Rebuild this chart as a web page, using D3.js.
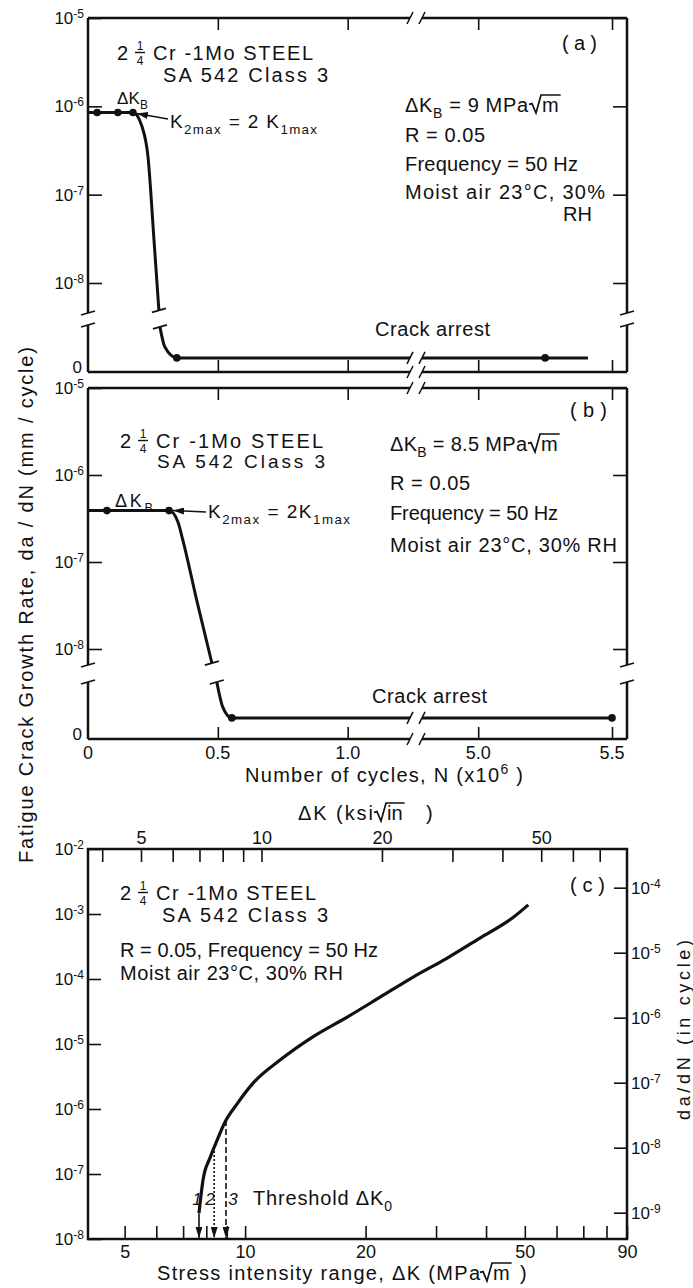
<!DOCTYPE html>
<html>
<head>
<meta charset="utf-8">
<script src="https://cdn.jsdelivr.net/npm/d3@7"></script>
<style>
  body { margin: 0; background: #fff; }
  svg { display: block; }
  text { font-family: "Liberation Sans", Arial, sans-serif; fill: #111; }
</style>
</head>
<body>
<div id="fig"></div>
<script>
// ---------- data ----------
// (a) dK_B = 9 MPa sqrt(m)
const aFlatN = [0, 0.035, 0.115, 0.173];          // 10^6 cycles
const aFlatRate = 8.5e-7;                          // mm/cycle
const aDropN = [0.208, 0.231, 0.254, 0.273];
const aDropRate = [5.9e-7, 2.7e-7, 3.1e-8, 4.9e-9];
const aTailN = [0.277, 0.296, 0.342];
const aTailRate = [9.6e-10, 5.3e-10, 3.0e-10];     // below the axis break, near zero
const aArrestEnd = 5.41;
const aFlatDots = [0.035, 0.115, 0.173];
const aArrestDots = [0.342, 5.25];

// (b) dK_B = 8.5 MPa sqrt(m)
const bFlatN = [0, 0.073, 0.312];
const bFlatRate = 3.9e-7;
const bDropN = [0.346, 0.365, 0.419, 0.477];
const bDropRate = [2.9e-7, 1.8e-7, 3.6e-8, 6.9e-9];
const bTailN = [0.496, 0.519, 0.554];
const bTailRate = [1.0e-9, 5.6e-10, 3.7e-10];
const bArrestEnd = 5.5;
const bFlatDots = [0.073, 0.312];
const bArrestDots = [0.554, 5.5];

const nTicksLeft = [0, 0.5, 1.0];
const nTicksRight = [5.0, 5.5];
const rateTicksAB = [1e-5, 1e-6, 1e-7, 1e-8];

// (c) da/dN vs dK
const cDK = [7.67, 7.85, 8.18, 8.51, 8.91, 9.55, 10.47, 12.2, 14.8, 18.0, 21.8, 26.3, 32.0, 38.7, 46.8, 51.0];
const cRate = [2.5e-8, 8.1e-8, 1.8e-7, 3.3e-7, 6.3e-7, 1.2e-6, 2.5e-6, 5.6e-6, 1.3e-5, 2.6e-5, 5.3e-5, 1.07e-4, 2.1e-4, 4.3e-4, 8.9e-4, 1.38e-3];
const threshDK = [7.67, 8.37, 8.96];
const threshRate = [2.5e-8, 2.6e-7, 6.8e-7];
const threshLabels = ["1", "2", "3"];
const threshDash = [null, "2,2", "6,3"];

const mpaTicks = [5, 6, 7, 8, 9, 10, 20, 30, 40, 50, 60, 70, 80, 90];
const mpaLabels = [5, 10, 20, 50, 90];
const ksiTicks = [4, 5, 6, 7, 8, 9, 10, 20, 30, 40, 50, 60, 70];
const ksiLabels = [5, 10, 20, 50];
const mmTicks = [1e-2, 1e-3, 1e-4, 1e-5, 1e-6, 1e-7, 1e-8];
const inTicks = [1e-4, 1e-5, 1e-6, 1e-7, 1e-8, 1e-9];
const MPA_PER_KSI = 1.0988;
const MM_PER_IN = 25.4;

// ---------- drawing ----------
const ink = "#111";
const svg = d3.select("#fig").append("svg").attr("width", 693).attr("height", 1288);

const defs = svg.append("defs");
defs.append("marker").attr("id", "arr").attr("viewBox", "0 0 11 7")
  .attr("refX", 11).attr("refY", 3.5).attr("markerWidth", 11).attr("markerHeight", 7)
  .attr("markerUnits", "userSpaceOnUse").attr("orient", "auto")
  .append("path").attr("d", "M0,0L11,3.5L0,7z").attr("fill", ink);

function label(x, y, parts, opt = {}) {
  const size = opt.size || 20;
  const t = svg.append("text").attr("x", x).attr("y", y).attr("font-size", size)
    .attr("text-anchor", opt.anchor || "start");
  if (opt.width) t.attr("textLength", opt.width).attr("lengthAdjust", "spacing");
  if (opt.italic) t.attr("font-style", "italic");
  if (opt.transform) t.attr("transform", opt.transform);
  let shift = 0;
  (typeof parts === "string" ? [{ t: parts }] : parts).forEach(p => {
    const s = p.sub ? size * 0.3 : p.sup ? -size * 0.42 : 0;
    const sp = t.append("tspan").attr("dy", s - shift).text(p.t);
    if (p.sub || p.sup) sp.attr("font-size", size * 0.7);
    shift = s;
  });
  return t;
}

function line(x1, y1, x2, y2, w = 2.5) {
  return svg.append("line").attr("x1", x1).attr("y1", y1).attr("x2", x2).attr("y2", y2)
    .attr("stroke", ink).attr("stroke-width", w);
}

// radical sign with radicand
function radical(x, y, size, radicand) {
  const t = label(x + 13, y, radicand, { size });
  const w = t.node().getComputedTextLength();
  const top = y - size * 0.85;
  svg.append("path")
    .attr("d", `M${x},${y - size * 0.38}L${x + 3},${y - size * 0.42}L${x + 7},${y + 1}L${x + 12},${top}L${x + 15 + w},${top}`)
    .attr("fill", "none").attr("stroke", ink).attr("stroke-width", 1.7);
}

// "2 1/4 Cr -1Mo STEEL" with stacked fraction
function steelTitle(x, y, restW) {
  label(x, y, "2", { size: 20 });
  const cx = x + 23;
  label(cx, y - 10, "1", { size: 12, anchor: "middle" });
  label(cx, y + 5, "4", { size: 12, anchor: "middle" });
  line(cx - 5, y - 7.5, cx + 5, y - 7.5, 1.4);
  label(x + 36, y, "Cr -1Mo STEEL", { size: 20, width: restW });
}

function powLabels(sel) {
  sel.selectAll(".tick text").each(function (d) {
    const e = Math.round(Math.log10(d));
    const t = d3.select(this);
    t.text("10").attr("font-size", 17);
    t.append("tspan").attr("dy", "-0.5em").attr("font-size", 12).text(e);
  });
}

// x scales for the broken cycle axis
const xL = d3.scaleLinear().domain([0, 1.24]).range([88, 410]);
const xR = d3.scaleLinear().domain([4.79, 5.556]).range([422, 627]);
const nx = n => (n < 3 ? xL(n) : xR(n));

function slash(x, y) { line(x - 3, y + 6, x + 3, y - 6, 1.6); }
function brk(x, y) { line(x - 7, y + 2, x + 7, y - 2, 1.8); }

function brokenPanel(o) {
  const y = d3.scaleLog().domain([1e-5, 1e-8]).range([o.top, o.y8]);
  const y0 = d3.scaleLinear().domain([0, 1e-9]).range([o.zero, o.brk2]);

  // frame with breaks
  [88, 627].forEach(x => {
    line(x, o.top, x, o.brk1); line(x, o.brk2, x, o.zero);
    brk(x, o.brk1); brk(x, o.brk2);
  });
  [o.top, o.zero].forEach(yy => {
    line(88, yy, xL.range()[1], yy); line(xR.range()[0], yy, 627, yy);
    slash(xL.range()[1], yy); slash(xR.range()[0], yy);
  });

  // ticks
  const ax = [
    [d3.axisTop(xL).tickValues([0.5, 1.0]), o.top],
    [d3.axisTop(xR).tickValues(nTicksRight), o.top],
    [d3.axisBottom(xL).tickValues([0.5, 1.0]), o.zero],
    [d3.axisBottom(xR).tickValues(nTicksRight), o.zero]
  ];
  ax.forEach(([a, yy]) => {
    const g = svg.append("g").attr("transform", `translate(0,${yy})`)
      .call(a.tickSize(-12).tickFormat(""));
    g.select(".domain").remove();
    g.selectAll("line").attr("stroke", ink).attr("stroke-width", 1.6);
  });
  const gl = svg.append("g").attr("transform", "translate(88,0)")
    .call(d3.axisLeft(y).tickValues(rateTicksAB).tickSize(-14).tickPadding(4));
  gl.select(".domain").remove();
  gl.selectAll("line").attr("stroke", ink).attr("stroke-width", 1.6);
  gl.selectAll("text").attr("font-family", null).attr("fill", ink);
  powLabels(gl);
  const gr = svg.append("g").attr("transform", "translate(627,0)")
    .call(d3.axisRight(y).tickValues(rateTicksAB).tickSize(-14).tickFormat(""));
  gr.select(".domain").remove();
  gr.selectAll("line").attr("stroke", ink).attr("stroke-width", 1.6);
  label(82, o.zero + 1, "0", { size: 17, anchor: "end" });

  // upper curve: plateau then drop
  const upper = o.flatN.map(n => [n, o.flatRate]).concat(o.dropN.map((n, i) => [n, o.dropRate[i]]));
  svg.append("path").datum(upper)
    .attr("d", d3.line().x(d => xL(d[0])).y(d => y(d[1])).curve(d3.curveMonotoneX))
    .attr("fill", "none").attr("stroke", ink).attr("stroke-width", 3);
  const last = upper[upper.length - 1];
  brk(xL(last[0]), y(last[1]));

  // lower curve: tail into crack arrest
  const arrest = o.tailRate[o.tailRate.length - 1];
  const lower = o.tailN.map((n, i) => [n, o.tailRate[i]]).concat([[xL.domain()[1], arrest]]);
  svg.append("path").datum(lower)
    .attr("d", d3.line().x(d => xL(d[0])).y(d => y0(d[1])).curve(d3.curveMonotoneX))
    .attr("fill", "none").attr("stroke", ink).attr("stroke-width", 3);
  brk(xL(o.tailN[0]), y0(o.tailRate[0]));
  svg.append("path").datum([[xR.domain()[0], arrest], [o.arrestEnd, arrest]])
    .attr("d", d3.line().x(d => xR(d[0])).y(d => y0(d[1])))
    .attr("fill", "none").attr("stroke", ink).attr("stroke-width", 3);
  slash(xL.range()[1], y0(arrest)); slash(xR.range()[0], y0(arrest));

  // points
  o.flatDots.forEach(n => svg.append("circle").attr("cx", nx(n)).attr("cy", y(o.flatRate)).attr("r", 3.8).attr("fill", ink));
  o.arrestDots.forEach(n => svg.append("circle").attr("cx", nx(n)).attr("cy", y0(arrest)).attr("r", 3.8).attr("fill", ink));

  return { y, y0 };
}

// ----- panel (a)
const pa = brokenPanel({
  top: 18, y8: 283, brk1: 313, brk2: 325, zero: 372,
  flatN: aFlatN, flatRate: aFlatRate, dropN: aDropN, dropRate: aDropRate,
  tailN: aTailN, tailRate: aTailRate, arrestEnd: aArrestEnd,
  flatDots: aFlatDots, arrestDots: aArrestDots
});
steelTitle(117, 60, 160);
label(163, 82, "SA 542 Class 3", { width: 165 });
label(117, 104, [{ t: "ΔK" }, { t: "B", sub: true }], { size: 17, width: 31 });
label(170, 128, [{ t: "K" }, { t: "2max", sub: true }, { t: " = 2 K" }, { t: "1max", sub: true }], { size: 19, width: 147 });
line(168, 119, xL(aFlatN[3]) + 4, pa.y(aFlatRate) + 1, 1.5).attr("marker-end", "url(#arr)");
label(562, 50, "(a)", { width: 35 });
label(405, 112, [{ t: "ΔK" }, { t: "B", sub: true }, { t: " = 9 MPa" }], { width: 123 });
radical(529, 112, 20, "m");
label(405, 142, "R = 0.05", { width: 80 });
label(405, 171, "Frequency = 50 Hz", { width: 173 });
label(405, 199, "Moist air 23°C, 30%", { width: 200 });
label(563, 221, "RH");
label(375, 336, "Crack arrest", { width: 115 });

// ----- panel (b)
const pb = brokenPanel({
  top: 388, y8: 649, brk1: 665, brk2: 682, zero: 739,
  flatN: bFlatN, flatRate: bFlatRate, dropN: bDropN, dropRate: bDropRate,
  tailN: bTailN, tailRate: bTailRate, arrestEnd: bArrestEnd,
  flatDots: bFlatDots, arrestDots: bArrestDots
});
steelTitle(120, 448, 167);
label(157, 468, "SA 542 Class 3", { size: 19, width: 168 });
label(115, 507, [{ t: "ΔK" }, { t: "B", sub: true }], { size: 18, width: 38 });
label(208, 518, [{ t: "K" }, { t: "2max", sub: true }, { t: " = 2K" }, { t: "1max", sub: true }], { size: 19, width: 142 });
line(206, 512, xL(bFlatN[2]) + 4, pb.y(bFlatRate), 1.5).attr("marker-end", "url(#arr)");
label(570, 417, "(b)", { width: 37 });
label(390, 451, [{ t: "ΔK" }, { t: "B", sub: true }, { t: " = 8.5 MPa" }], { width: 137 });
radical(528, 451, 20, "m");
label(390, 490, "R = 0.05", { width: 80 });
label(390, 520, "Frequency = 50 Hz", { width: 168 });
label(390, 552, "Moist air 23°C, 30% RH", { width: 227 });
label(372, 703, "Crack arrest", { width: 115 });

// cycle labels under (b)
[[xL, nTicksLeft, d => (d === 0 ? "0" : d.toFixed(1))], [xR, nTicksRight, d => d.toFixed(1)]].forEach(([s, vals, f]) => {
  vals.forEach(v => label(s(v), 759, f(v), { size: 18, anchor: "middle" }));
});
label(245, 782, [{ t: "Number of cycles, N (x10" }, { t: "6", sup: true }, { t: " )" }], { width: 278 });

// shared y label
label(0, 0, "Fatigue Crack Growth Rate, da / dN (mm / cycle)",
  { anchor: "middle", width: 516, transform: "translate(33,605) rotate(-90)" });

// ----- panel (c)
const x = d3.scaleLog().domain([4.05, 90]).range([88, 627]);
const xKsi = d3.scaleLog().domain([4.05 / MPA_PER_KSI, 90 / MPA_PER_KSI]).range([88, 627]);
const yMm = d3.scaleLog().domain([1e-8, 1e-2]).range([1239, 849]);
const yIn = d3.scaleLog().domain([1e-8 / MM_PER_IN, 1e-2 / MM_PER_IN]).range([1239, 849]);

svg.append("rect").attr("x", 88).attr("y", 849).attr("width", 539).attr("height", 390)
  .attr("fill", "none").attr("stroke", ink).attr("stroke-width", 2.5);

function styleAxis(g) {
  g.select(".domain").remove();
  g.selectAll("line").attr("stroke", ink).attr("stroke-width", 1.6);
  g.selectAll("text").attr("font-family", null).attr("font-size", 18).attr("fill", ink);
}
styleAxis(svg.append("g").attr("transform", "translate(0,1239)")
  .call(d3.axisBottom(x).tickValues(mpaTicks).tickSize(-13).tickPadding(6)
    .tickFormat(d => (mpaLabels.includes(d) ? d : ""))));
styleAxis(svg.append("g").attr("transform", "translate(0,849)")
  .call(d3.axisTop(xKsi).tickValues(ksiTicks).tickSize(-13).tickPadding(5)
    .tickFormat(d => (ksiLabels.includes(d) ? d : ""))));
const gcl = svg.append("g").attr("transform", "translate(88,0)")
  .call(d3.axisLeft(yMm).tickValues(mmTicks).tickSize(-13).tickPadding(4));
styleAxis(gcl); powLabels(gcl);
const gcr = svg.append("g").attr("transform", "translate(627,0)")
  .call(d3.axisRight(yIn).tickValues(inTicks).tickSize(-13).tickPadding(4));
styleAxis(gcr); powLabels(gcr);

svg.append("path").datum(cDK.map((k, i) => [k, cRate[i]]))
  .attr("d", d3.line().x(d => x(d[0])).y(d => yMm(d[1])).curve(d3.curveMonotoneX))
  .attr("fill", "none").attr("stroke", ink).attr("stroke-width", 3.2);

threshDK.forEach((k, i) => {
  const l = line(x(k), yMm(threshRate[i]), x(k), 1238, 1.6).attr("marker-end", "url(#arr)");
  if (threshDash[i]) l.attr("stroke-dasharray", threshDash[i]);
});
[197, 210, 233].forEach((lx, i) =>
  label(lx, 1205, threshLabels[i], { size: 17, anchor: "middle", italic: true }));
label(253, 1205, [{ t: "Threshold ΔK" }, { t: "0", sub: true }], { width: 139 });

steelTitle(120, 900, 160);
label(162, 922, "SA 542 Class 3", { width: 166 });
label(120, 957, "R = 0.05, Frequency = 50 Hz", { width: 258 });
label(120, 980, "Moist air 23°C, 30% RH", { width: 223 });
label(570, 892, "(c)", { width: 35 });

label(298, 820, "ΔK (ksi", { width: 75 });
radical(374, 820, 20, "in");
label(426, 820, ")");
label(157, 1280, "Stress intensity range, ΔK (MPa", { width: 323 });
radical(480, 1280, 20, "m");
label(520, 1280, ")");
label(0, 0, "da/dN (in cycle)",
  { size: 18, anchor: "middle", width: 180, transform: "translate(690,1030) rotate(-90)" });
</script>
</body>
</html>
